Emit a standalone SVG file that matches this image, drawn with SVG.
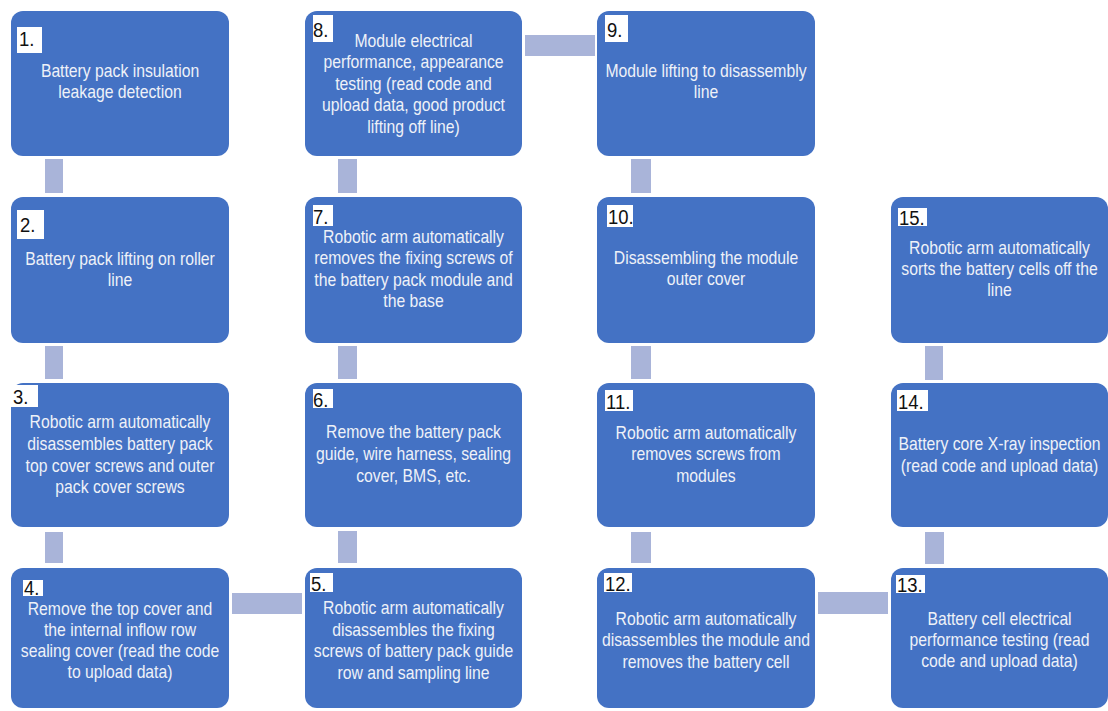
<svg xmlns="http://www.w3.org/2000/svg" width="1108" height="711" viewBox="0 0 1108 711">
  <style>
    .box { fill: #4472C4; }
    .tag { fill: #ffffff; }
    .num { font-family: "Liberation Sans", Arial, sans-serif; font-size: 21px; fill: #111111; }
    .txt { font-family: "Liberation Sans", Arial, sans-serif; font-size: 17.5px; fill: #eef1f8; text-anchor: middle; }
    .link { fill: #A9B4D9; }
  </style>
  <rect width="1108" height="711" fill="#ffffff"/>

  <!-- connectors between steps -->
  <g id="connectors">
    <rect class="link" x="45" y="159" width="18" height="34"/>
    <rect class="link" x="45" y="346" width="18" height="33"/>
    <rect class="link" x="45" y="532" width="18" height="31"/>
    <rect class="link" x="232" y="593" width="70" height="21"/>
    <rect class="link" x="338" y="531" width="19" height="32"/>
    <rect class="link" x="338" y="346" width="19" height="33"/>
    <rect class="link" x="338" y="159" width="19" height="34"/>
    <rect class="link" x="525" y="35" width="70" height="21"/>
    <rect class="link" x="631" y="159" width="20" height="34"/>
    <rect class="link" x="631" y="346" width="20" height="33"/>
    <rect class="link" x="631" y="532" width="20" height="31"/>
    <rect class="link" x="818" y="592" width="70" height="22"/>
    <rect class="link" x="925" y="532" width="19" height="32"/>
    <rect class="link" x="925" y="346" width="18" height="34"/>
  </g>

  <g id="step1">
    <rect class="box" x="11" y="11" width="218" height="145" rx="12"/>
    <rect class="tag" x="17" y="27" width="25" height="26"/>
    <g transform="translate(19 46) scale(0.88 1)"><text class="num">1.</text></g>
    <g transform="translate(120 0) scale(0.9 1)">
      <text class="txt" x="0" y="77">Battery pack insulation</text>
      <text class="txt" x="0" y="98">leakage detection</text>
    </g>
  </g>

  <g id="step2">
    <rect class="box" x="11" y="197" width="218" height="146" rx="12"/>
    <rect class="tag" x="17" y="210" width="27" height="29"/>
    <g transform="translate(20 232) scale(0.88 1)"><text class="num">2.</text></g>
    <g transform="translate(120 0) scale(0.9 1)">
      <text class="txt" x="0" y="265">Battery pack lifting on roller</text>
      <text class="txt" x="0" y="286">line</text>
    </g>
  </g>

  <g id="step3">
    <rect class="box" x="11" y="383" width="218" height="144" rx="12"/>
    <rect class="tag" x="11" y="385" width="27" height="22"/>
    <g transform="translate(13 404) scale(0.88 1)"><text class="num">3.</text></g>
    <g transform="translate(120 0) scale(0.9 1)">
      <text class="txt" x="0" y="428">Robotic arm automatically</text>
      <text class="txt" x="0" y="450">disassembles battery pack</text>
      <text class="txt" x="0" y="472">top cover screws and outer</text>
      <text class="txt" x="0" y="493">pack cover screws</text>
    </g>
  </g>

  <g id="step4">
    <rect class="box" x="11" y="568" width="218" height="140" rx="12"/>
    <rect class="tag" x="23" y="580" width="20" height="16"/>
    <g transform="translate(24 595) scale(0.88 1)"><text class="num">4.</text></g>
    <g transform="translate(120 0) scale(0.9 1)">
      <text class="txt" x="0" y="615">Remove the top cover and</text>
      <text class="txt" x="0" y="636">the internal inflow row</text>
      <text class="txt" x="0" y="657">sealing cover (read the code</text>
      <text class="txt" x="0" y="678">to upload data)</text>
    </g>
  </g>

  <g id="step5">
    <rect class="box" x="305" y="568" width="217" height="140" rx="12"/>
    <rect class="tag" x="310" y="573" width="23" height="19"/>
    <g transform="translate(311 591) scale(0.88 1)"><text class="num">5.</text></g>
    <g transform="translate(413.5 0) scale(0.9 1)">
      <text class="txt" x="0" y="614">Robotic arm automatically</text>
      <text class="txt" x="0" y="636">disassembles the fixing</text>
      <text class="txt" x="0" y="657">screws of battery pack guide</text>
      <text class="txt" x="0" y="679">row and sampling line</text>
    </g>
  </g>

  <g id="step6">
    <rect class="box" x="305" y="383" width="217" height="144" rx="12"/>
    <rect class="tag" x="313" y="389" width="20" height="19"/>
    <g transform="translate(313 407) scale(0.88 1)"><text class="num">6.</text></g>
    <g transform="translate(413.5 0) scale(0.9 1)">
      <text class="txt" x="0" y="438">Remove the battery pack</text>
      <text class="txt" x="0" y="460">guide, wire harness, sealing</text>
      <text class="txt" x="0" y="482">cover, BMS, etc.</text>
    </g>
  </g>

  <g id="step7">
    <rect class="box" x="305" y="197" width="217" height="146" rx="12"/>
    <rect class="tag" x="313" y="205" width="20" height="21"/>
    <g transform="translate(313 224) scale(0.88 1)"><text class="num">7.</text></g>
    <g transform="translate(413.5 0) scale(0.9 1)">
      <text class="txt" x="0" y="243">Robotic arm automatically</text>
      <text class="txt" x="0" y="264">removes the fixing screws of</text>
      <text class="txt" x="0" y="286">the battery pack module and</text>
      <text class="txt" x="0" y="307">the base</text>
    </g>
  </g>

  <g id="step8">
    <rect class="box" x="305" y="11" width="217" height="145" rx="12"/>
    <rect class="tag" x="313" y="15" width="20" height="27"/>
    <g transform="translate(313 37) scale(0.88 1)"><text class="num">8.</text></g>
    <g transform="translate(413.5 0) scale(0.9 1)">
      <text class="txt" x="0" y="47">Module electrical</text>
      <text class="txt" x="0" y="68.5">performance, appearance</text>
      <text class="txt" x="0" y="90">testing (read code and</text>
      <text class="txt" x="0" y="111.5">upload data, good product</text>
      <text class="txt" x="0" y="133">lifting off line)</text>
    </g>
  </g>

  <g id="step9">
    <rect class="box" x="597" y="11" width="218" height="145" rx="12"/>
    <rect class="tag" x="605" y="15" width="23" height="27"/>
    <g transform="translate(607 37) scale(0.88 1)"><text class="num">9.</text></g>
    <g transform="translate(706 0) scale(0.9 1)">
      <text class="txt" x="0" y="77">Module lifting to disassembly</text>
      <text class="txt" x="0" y="98">line</text>
    </g>
  </g>

  <g id="step10">
    <rect class="box" x="597" y="197" width="218" height="146" rx="12"/>
    <rect class="tag" x="607" y="205" width="26" height="22"/>
    <g transform="translate(608 224) scale(0.88 1)"><text class="num">10.</text></g>
    <g transform="translate(706 0) scale(0.9 1)">
      <text class="txt" x="0" y="264">Disassembling the module</text>
      <text class="txt" x="0" y="285">outer cover</text>
    </g>
  </g>

  <g id="step11">
    <rect class="box" x="597" y="383" width="218" height="144" rx="12"/>
    <rect class="tag" x="605" y="390" width="28" height="21"/>
    <g transform="translate(606 409) scale(0.88 1)"><text class="num">11.</text></g>
    <g transform="translate(706 0) scale(0.9 1)">
      <text class="txt" x="0" y="439">Robotic arm automatically</text>
      <text class="txt" x="0" y="460">removes screws from</text>
      <text class="txt" x="0" y="482">modules</text>
    </g>
  </g>

  <g id="step12">
    <rect class="box" x="597" y="568" width="218" height="140" rx="12"/>
    <rect class="tag" x="604" y="573" width="28" height="19"/>
    <g transform="translate(605 591) scale(0.88 1)"><text class="num">12.</text></g>
    <g transform="translate(706 0) scale(0.9 1)">
      <text class="txt" x="0" y="625">Robotic arm automatically</text>
      <text class="txt" x="0" y="646">disassembles the module and</text>
      <text class="txt" x="0" y="668">removes the battery cell</text>
    </g>
  </g>

  <g id="step13">
    <rect class="box" x="891" y="568" width="217" height="140" rx="12"/>
    <rect class="tag" x="896" y="575" width="29" height="18"/>
    <g transform="translate(897 592) scale(0.88 1)"><text class="num">13.</text></g>
    <g transform="translate(999.5 0) scale(0.9 1)">
      <text class="txt" x="0" y="625">Battery cell electrical</text>
      <text class="txt" x="0" y="646">performance testing (read</text>
      <text class="txt" x="0" y="667">code and upload data)</text>
    </g>
  </g>

  <g id="step14">
    <rect class="box" x="891" y="383" width="217" height="144" rx="12"/>
    <rect class="tag" x="897" y="390" width="31" height="21"/>
    <g transform="translate(898 409) scale(0.88 1)"><text class="num">14.</text></g>
    <g transform="translate(999.5 0) scale(0.9 1)">
      <text class="txt" x="0" y="450">Battery core X-ray inspection</text>
      <text class="txt" x="0" y="472">(read code and upload data)</text>
    </g>
  </g>

  <g id="step15">
    <rect class="box" x="891" y="197" width="217" height="146" rx="12"/>
    <rect class="tag" x="898" y="208" width="29" height="18"/>
    <g transform="translate(899 225) scale(0.88 1)"><text class="num">15.</text></g>
    <g transform="translate(999.5 0) scale(0.9 1)">
      <text class="txt" x="0" y="254">Robotic arm automatically</text>
      <text class="txt" x="0" y="275">sorts the battery cells off the</text>
      <text class="txt" x="0" y="296">line</text>
    </g>
  </g>
</svg>
